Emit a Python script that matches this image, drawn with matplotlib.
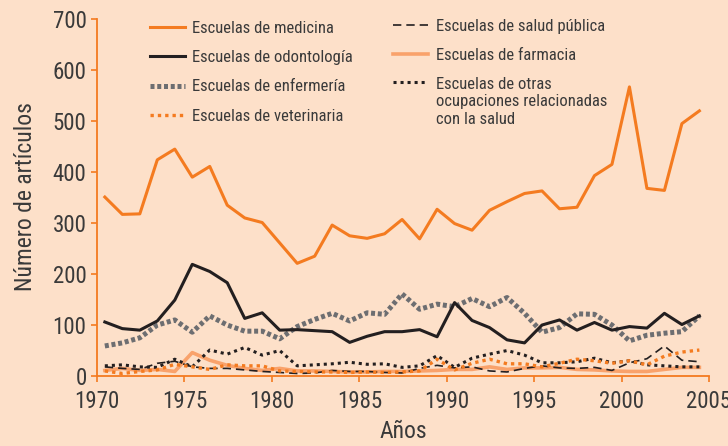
import numpy as np
import matplotlib
matplotlib.use("Agg")
import matplotlib.pyplot as plt
from matplotlib.legend_handler import HandlerLine2D

plt.rcParams["font.family"] = ["Roboto Condensed", "Liberation Sans Narrow", "DejaVu Sans"]
plt.rcParams["font.stretch"] = "condensed"

years = np.arange(1970, 2005)

medicina = [350, 316, 317, 423, 444, 389, 410, 334, 309, 300, 260, 220, 234, 295, 274,
            269, 278, 306, 268, 326, 298, 285, 324, 341, 357, 362, 327, 330, 392, 414,
            566, 367, 363, 494, 519]
odontologia = [105, 92, 89, 107, 148, 218, 204, 182, 112, 123, 89, 90, 88, 86, 65,
               77, 86, 86, 90, 76, 143, 108, 94, 70, 64, 99, 109, 89, 104, 89,
               96, 93, 122, 100, 117]
enfermeria = [58, 64, 74, 99, 109, 85, 117, 99, 87, 87, 72, 96, 110, 122, 107,
              123, 120, 160, 130, 140, 135, 151, 135, 153, 122, 85, 94, 121, 120, 99,
              68, 79, 83, 86, 117]
veterinaria = [9, 4, 8, 11, 22, 17, 12, 21, 19, 19, 9, 8, 7, 7, 6,
               7, 6, 7, 9, 32, 11, 24, 32, 23, 23, 17, 24, 32, 29, 24,
               29, 21, 38, 46, 50]
salud_publica = [17, 14, 12, 24, 28, 17, 14, 14, 11, 8, 6, 4, 5, 10, 8,
                 8, 6, 5, 14, 20, 15, 17, 9, 7, 14, 19, 15, 14, 16, 10,
                 25, 33, 58, 30, 27]
farmacia = [10, 14, 10, 12, 8, 45, 30, 20, 14, 10, 14, 9, 9, 8, 7,
            7, 8, 8, 9, 10, 12, 12, 17, 12, 15, 15, 16, 12, 11, 9,
            8, 8, 12, 16, 16]
otras = [19, 21, 17, 16, 32, 17, 50, 42, 55, 40, 49, 19, 21, 23, 26,
         22, 23, 16, 19, 39, 16, 34, 42, 49, 40, 25, 25, 27, 34, 25,
         29, 21, 19, 17, 17]

BG = "#FDE0C9"
ORANGE = "#F47B20"
LIGHT_ORANGE = "#F9A26B"
BLACK = "#231F20"
GREY = "#6D6E71"
TEXT = "#3A3A3A"


class FirstLineHandler(HandlerLine2D):
    # moves the handle up to the first line of a 3-line label
    def create_artists(self, legend, orig_handle, xdescent, ydescent,
                       width, height, fontsize, trans):
        artists = super().create_artists(legend, orig_handle, xdescent, ydescent,
                                         width, height, fontsize, trans)
        for a in artists:
            a.set_ydata(np.asarray(a.get_ydata()) + fontsize * 1.18)
        return artists


fig = plt.figure(figsize=(7.28, 4.46), dpi=100, facecolor=BG)
ax = fig.add_axes([0.1332, 0.158, 0.8407, 0.8004])
ax.set_facecolor(BG)

x = years + 0.45
l_med, = ax.plot(x, medicina, color=ORANGE, lw=2.2, label="Escuelas de medicina", zorder=5)
l_odo, = ax.plot(x, odontologia, color=BLACK, lw=2.2, label="Escuelas de odontología", zorder=4)
l_enf, = ax.plot(x, enfermeria, color=GREY, lw=3.6, linestyle=(0, (0.8, 0.55)),
                 label="Escuelas de enfermería", zorder=3)
l_far, = ax.plot(x, farmacia, color=LIGHT_ORANGE, lw=2.6, label="Escuelas de farmacia", zorder=2)
l_sal, = ax.plot(x, salud_publica, color=BLACK, lw=1.2, linestyle=(0, (5, 3)),
                 label="Escuelas de salud pública", zorder=3)
l_otr, = ax.plot(x, otras, color=BLACK, lw=2.2, linestyle=(0, (1, 1.3)),
                 label="Escuelas de otras\nocupaciones relacionadas\ncon la salud", zorder=3)
l_vet, = ax.plot(x, veterinaria, color=ORANGE, lw=2.4, linestyle=(0, (1, 1.2)),
                 label="Escuelas de veterinaria", zorder=3)

ax.set_xlim(1970, 2005)
ax.set_ylim(0, 700)
ax.set_xticks(range(1970, 2006, 5))
ax.set_yticks(range(0, 701, 100))

for side in ["top", "right"]:
    ax.spines[side].set_visible(False)
for side in ["left", "bottom"]:
    ax.spines[side].set_color(ORANGE)
    ax.spines[side].set_linewidth(1.3)
ax.tick_params(direction="out", length=4.5, width=1.2, color=ORANGE,
               labelcolor=TEXT, labelsize=16.5)
ax.tick_params(axis="x", pad=6)
ax.tick_params(axis="y", pad=3)

ax.set_xlabel("Años", fontsize=17, color=TEXT, labelpad=5)
ax.set_ylabel("Número de artículos", fontsize=17, color=TEXT, labelpad=11)

leg_kw = dict(frameon=False, fontsize=12, handlelength=2.1, handletextpad=0.45,
              labelspacing=0.85, borderpad=0, borderaxespad=0, loc="upper left",
              labelcolor=TEXT)
leg1 = ax.legend(handles=[l_med, l_odo, l_enf, l_vet], bbox_to_anchor=(0.0866, 0.993), **leg_kw)
ax.add_artist(leg1)
ax.legend(handles=[l_sal, l_far, l_otr], bbox_to_anchor=(0.4837, 1.0),
          handler_map={l_otr: FirstLineHandler()}, **leg_kw)

fig.savefig("out.png", dpi=100, facecolor=BG)
